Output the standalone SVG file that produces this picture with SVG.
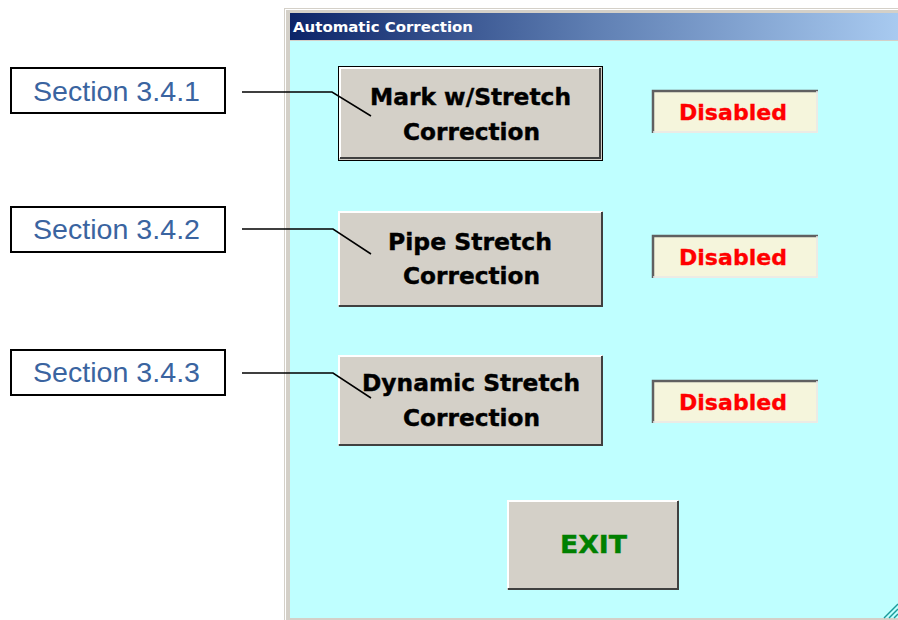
<svg xmlns="http://www.w3.org/2000/svg" width="898" height="620" viewBox="0 0 898 620">
<defs>
<linearGradient id="tb" x1="0" y1="0" x2="1" y2="0">
<stop offset="0" stop-color="#0c2468"/>
<stop offset="0.5" stop-color="#5f7fb3"/>
<stop offset="1" stop-color="#a8caf0"/>
</linearGradient>
<style>
.btn{fill:#d4d0c8}
.bt{font-family:"DejaVu Sans",Verdana,sans-serif;font-weight:bold;font-size:22.5px;fill:#000;stroke:#000;stroke-width:0.4}
.dis{font-family:"DejaVu Sans",Verdana,sans-serif;font-weight:bold;font-size:21.5px;fill:#ff0000;stroke:#ff0000;stroke-width:0.3}
.sec{fill:#fff;stroke:#000;stroke-width:2}
.st{font-family:"Liberation Sans",Arial,sans-serif;font-size:28.5px;fill:#3a64a0}
.con{fill:none;stroke:#000;stroke-width:1.5}
.hl{stroke:#fff;stroke-width:2;fill:none}
.sh{stroke:#404040;stroke-width:2;fill:none}
</style>
</defs>
<rect width="898" height="620" fill="#fff"/>
<g id="window">
<rect x="284" y="8" width="614" height="612" fill="#d4d0c8"/>
<rect x="285" y="9" width="613" height="1" fill="#ffffff"/>
<rect x="285" y="9" width="1" height="611" fill="#ffffff"/>
<rect x="290" y="13" width="608" height="27" fill="url(#tb)"/>
<text x="293" y="32" font-family="Tahoma,'DejaVu Sans',sans-serif" font-weight="bold" font-size="14" fill="#fff" textLength="180" lengthAdjust="spacingAndGlyphs">Automatic Correction</text>
<rect x="290" y="41" width="608" height="577" fill="#bfffff"/>
<g stroke="#1a9a9a" stroke-width="1.5">
<line x1="884" y1="618" x2="898" y2="604"/>
<line x1="889" y1="618" x2="898" y2="609"/>
<line x1="894" y1="618" x2="898" y2="614"/>
</g>
</g>
<g id="btn-mark">
<rect x="338" y="66" width="265" height="95" fill="#000"/>
<rect x="339" y="67" width="263" height="93" class="btn"/>
<path d="M340 158V68H600" class="hl"/>
<path d="M340 158H600V68" class="sh"/>
<text x="370" y="105" class="bt" textLength="201" lengthAdjust="spacingAndGlyphs">Mark w/Stretch</text>
<text x="403" y="140" class="bt" textLength="137" lengthAdjust="spacingAndGlyphs">Correction</text>
</g>
<g id="btn-pipe">
<rect x="338" y="211" width="265" height="96" class="btn"/>
<path d="M339 305V212H602" class="hl"/>
<path d="M339 306H602V212" class="sh"/>
<text x="388" y="250" class="bt" textLength="164" lengthAdjust="spacingAndGlyphs">Pipe Stretch</text>
<text x="403" y="284" class="bt" textLength="137" lengthAdjust="spacingAndGlyphs">Correction</text>
</g>
<g id="btn-dynamic">
<rect x="338" y="355" width="265" height="91" class="btn"/>
<path d="M339 444V356H602" class="hl"/>
<path d="M339 445H602V356" class="sh"/>
<text x="362" y="391" class="bt" textLength="218" lengthAdjust="spacingAndGlyphs">Dynamic Stretch</text>
<text x="403" y="426" class="bt" textLength="137" lengthAdjust="spacingAndGlyphs">Correction</text>
</g>
<g id="btn-exit">
<rect x="507" y="500" width="172" height="90" class="btn"/>
<path d="M508 588V501H678" class="hl"/>
<path d="M508 589H678V501" class="sh"/>
<text x="560" y="553" font-family="'DejaVu Sans',Verdana,sans-serif" font-weight="bold" font-size="25" fill="#008000" stroke="#008000" stroke-width="0.4" textLength="67" lengthAdjust="spacingAndGlyphs">EXIT</text>
</g>
<g id="status-1">
<rect x="652" y="90" width="166" height="43" fill="#f5f5dc"/>
<path d="M653 133V91H818" stroke="#606060" stroke-width="2.5" fill="none"/>
<path d="M653 132H817V91" stroke="#e8e8e8" stroke-width="1.5" fill="none"/>
<text x="679" y="120" class="dis" textLength="108" lengthAdjust="spacingAndGlyphs">Disabled</text>
</g>
<g id="status-2">
<rect x="652" y="235" width="166" height="43" fill="#f5f5dc"/>
<path d="M653 278V236H818" stroke="#606060" stroke-width="2.5" fill="none"/>
<path d="M653 277H817V236" stroke="#e8e8e8" stroke-width="1.5" fill="none"/>
<text x="679" y="265" class="dis" textLength="108" lengthAdjust="spacingAndGlyphs">Disabled</text>
</g>
<g id="status-3">
<rect x="652" y="380" width="166" height="43" fill="#f5f5dc"/>
<path d="M653 423V381H818" stroke="#606060" stroke-width="2.5" fill="none"/>
<path d="M653 422H817V381" stroke="#e8e8e8" stroke-width="1.5" fill="none"/>
<text x="679" y="410" class="dis" textLength="108" lengthAdjust="spacingAndGlyphs">Disabled</text>
</g>
<g id="sec-1">
<rect x="11" y="68" width="214" height="45" class="sec"/>
<text x="33" y="101" class="st" textLength="167" lengthAdjust="spacingAndGlyphs">Section 3.4.1</text>
</g>
<g id="sec-2">
<rect x="11" y="207" width="214" height="45" class="sec"/>
<text x="33" y="239" class="st" textLength="167" lengthAdjust="spacingAndGlyphs">Section 3.4.2</text>
</g>
<g id="sec-3">
<rect x="11" y="350" width="214" height="45" class="sec"/>
<text x="33" y="382" class="st" textLength="167" lengthAdjust="spacingAndGlyphs">Section 3.4.3</text>
</g>
<g id="connectors">
<path d="M242 92H332L371 116" class="con"/>
<path d="M242 229H333L371 254" class="con"/>
<path d="M242 373H333L371 398" class="con"/>
</g>
</svg>
